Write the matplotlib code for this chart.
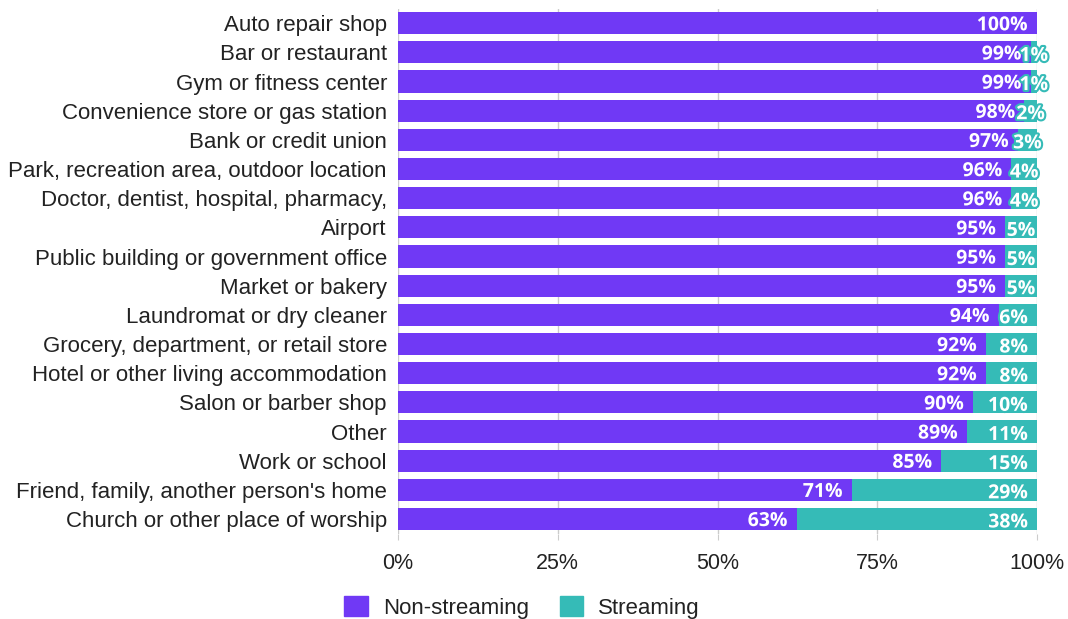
import matplotlib.pyplot as plt
import matplotlib.patheffects as pe
from matplotlib.patches import Patch

# categorias e percentuais
categorias = [
    "Auto repair shop", "Bar or restaurant", "Gym or fitness center",
    "Convenience store or gas station", "Bank or credit union",
    "Park, recreation area, outdoor location",
    "Doctor, dentist, hospital, pharmacy,", "Airport",
    "Public building or government office", "Market or bakery",
    "Laundromat or dry cleaner", "Grocery, department, or retail store",
    "Hotel or other living accommodation", "Salon or barber shop", "Other",
    "Work or school", "Friend, family, another person's home",
    "Church or other place of worship",
]
non_streaming = [100, 99, 99, 98, 97, 96, 96, 95, 95, 95, 94, 92, 92, 90, 89, 85, 71, 63]
streaming = [0, 1, 1, 2, 3, 4, 4, 5, 5, 5, 6, 8, 8, 10, 11, 15, 29, 38]

cor_non = "#7039f5"
cor_str = "#35bbb7"

fig = plt.figure(figsize=(10.68, 6.19), dpi=100)
ax = fig.add_axes([0.3727, 0.138, 0.5983, 0.848])

y = list(range(len(categorias)))
tot = [a + b for a, b in zip(non_streaming, streaming)]
ns = [100 * a / t for a, t in zip(non_streaming, tot)]
st = [100 * b / t for b, t in zip(streaming, tot)]

ax.barh(y, ns, height=0.76, color=cor_non, zorder=2)
ax.barh(y, st, left=ns, height=0.76, color=cor_str, zorder=2)

fonte_rot = dict(color="white", fontsize=14, fontweight="bold", family="Open Sans", va="center")
for i in y:
    ax.annotate(f"{non_streaming[i]}%", (ns[i], i), xytext=(-6.5, -1.5), textcoords="offset points",
                ha="right", zorder=3, **fonte_rot,
                path_effects=[pe.withStroke(linewidth=2.5, foreground=cor_non)])
    if streaming[i] > 0:
        if st[i] < 5.5:
            xp, dx, ha = ns[i] + st[i] / 2, 0, "center"
        else:
            xp, dx, ha = 100, -6.5, "right"
        ax.annotate(f"{streaming[i]}%", (xp, i), xytext=(dx, -2.5), textcoords="offset points",
                    ha=ha, zorder=4, **fonte_rot,
                    path_effects=[pe.withStroke(linewidth=3, foreground=cor_str)])

ax.set_xlim(0, 100)
ax.set_ylim(len(categorias) - 0.5, -0.5)
ax.set_yticks(y)
ax.set_yticklabels(categorias, family="Liberation Sans", fontsize=16, color="#222222")
ax.set_xticks([0, 25, 50, 75, 100])
ax.set_xticklabels(["0%", "25%", "50%", "75%", "100%"], family="Liberation Sans", fontsize=15.5,
                   color="#222222")
ax.tick_params(axis="y", length=0, pad=8)
ax.tick_params(axis="x", length=4.5, color="#cccccc", pad=9.5)
ax.grid(axis="x", color="#cccccc", linewidth=1, zorder=0)
for s in ax.spines.values():
    s.set_visible(False)

handles = [Patch(color=cor_non, label="Non-streaming"), Patch(color=cor_str, label="Streaming")]
fig.legend(handles=handles, loc="center", bbox_to_anchor=(0.489, 0.019), ncol=2, frameon=False,
           prop={"family": "Liberation Sans", "size": 16}, handlelength=1.05, handleheight=1.05,
           handletextpad=0.68, columnspacing=1.4, labelcolor="#222222")

fig.savefig("out.png", dpi=100)
